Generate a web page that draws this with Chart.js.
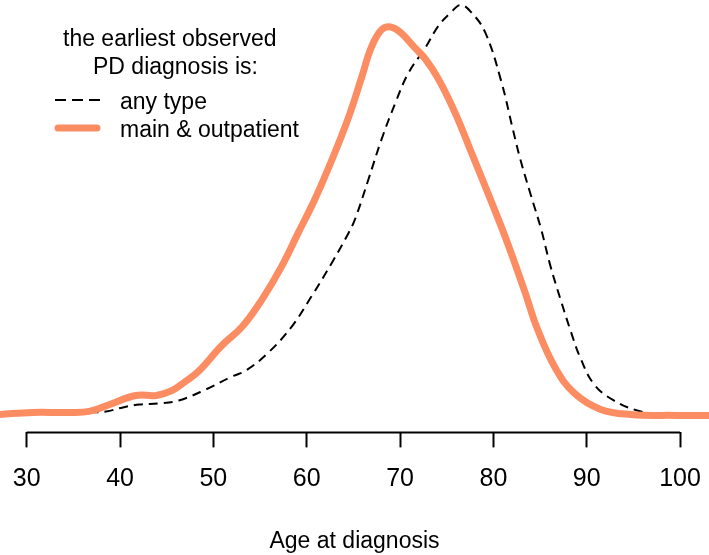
<!DOCTYPE html>
<html>
<head>
<meta charset="utf-8">
<script src="https://cdn.jsdelivr.net/npm/chart.js@4"></script>
<style>
  body { margin: 0; background: #fff; }
  #wrap { width: 709px; height: 555px; position: relative; }
</style>
</head>
<body>
<div id="wrap"><canvas id="density_chart"></canvas></div>
<script>
// density of age at earliest observed PD diagnosis
var anyAges = [27.1, 30.6, 34.3, 36.7, 38.5, 40.3, 42.1, 44.2, 46.3, 49.2, 52.0, 53.5, 55.9, 58.4,
  60.5, 62.7, 64.5, 65.2, 66.6, 68.0, 69.5, 70.9, 72.7, 74.1, 75.5, 76.5, 77.6, 79.1, 80.8, 82.1,
  82.9, 84.0, 85.1, 86.1, 87.2, 88.3, 89.3, 90.8, 92.9, 95.4, 98.0, 103.1];
var anyDensity = [0.0001, 0.0003, 0.0003, 0.0003, 0.0004, 0.0008, 0.0011, 0.0012, 0.0015, 0.0026,
  0.0039, 0.0045, 0.0063, 0.0089, 0.0119, 0.0153, 0.0183, 0.0197, 0.0236, 0.0276, 0.0313, 0.0343,
  0.0368, 0.0390, 0.0404, 0.0411, 0.0404, 0.0384, 0.0336, 0.0286, 0.0256, 0.0221, 0.0187, 0.0150,
  0.0116, 0.0084, 0.0058, 0.0031, 0.0015, 0.0005, 0.0001, 0.0000];

var mainAges = [27.1, 30.6, 34.3, 36.7, 38.9, 41.7, 43.9, 45.6, 47.0, 48.5, 50.9, 53.1, 55.2, 57.3,
  59.1, 60.9, 62.7, 64.5, 65.9, 66.9, 68.0, 69.0, 70.1, 71.6, 72.7, 74.1, 75.9, 77.7, 79.7, 81.5,
  83.4, 84.7, 86.6, 88.7, 91.5, 94.7, 99.7, 103.1];
var mainDensity = [0.0001, 0.0003, 0.0003, 0.0004, 0.0011, 0.0020, 0.0020, 0.0025, 0.0034, 0.0045,
  0.0070, 0.0089, 0.0116, 0.0149, 0.0183, 0.0217, 0.0256, 0.0299, 0.0339, 0.0368, 0.0386, 0.0389,
  0.0383, 0.0368, 0.0357, 0.0337, 0.0303, 0.0262, 0.0216, 0.0173, 0.0123, 0.0087, 0.0048, 0.0022,
  0.0006, 0.0001, 0.0000, 0.0000];

var seriesNames = ['any type', 'main & outpatient'];
var legendTitle = ['the earliest observed', 'PD diagnosis is:'];
var xTicks = [30, 40, 50, 60, 70, 80, 90, 100];
var xTitle = 'Age at diagnosis';

var FONT = "'Liberation Sans', Arial, Helvetica, sans-serif";

function toPoints(xs, ys) {
  var pts = [];
  for (var i = 0; i < xs.length; i++) pts.push({x: xs[i], y: ys[i]});
  return pts;
}

// R style axis line that only spans first to last tick
var axisLine = {
  id: 'axisLine',
  afterDraw: function(chart) {
    var sx = chart.scales.x;
    var ctx = chart.ctx;
    var y = chart.chartArea.bottom;
    ctx.save();
    ctx.strokeStyle = '#000';
    ctx.lineWidth = 2;
    ctx.beginPath();
    ctx.moveTo(sx.getPixelForValue(xTicks[0]), y);
    ctx.lineTo(sx.getPixelForValue(xTicks[xTicks.length - 1]), y);
    ctx.stroke();
    ctx.restore();
  }
};

// legend in the top left corner, like base R legend()
var cornerLegend = {
  id: 'cornerLegend',
  afterDraw: function(chart) {
    var ctx = chart.ctx;
    ctx.save();
    ctx.fillStyle = '#000';
    ctx.font = '23px ' + FONT;
    ctx.textBaseline = 'alphabetic';
    ctx.fillText(legendTitle[0], 63, 46);
    ctx.fillText(legendTitle[1], 93, 74);
    var rows = [100, 128];
    chart.data.datasets.forEach(function(ds, i) {
      var y = rows[i];
      var thick = ds.borderWidth > 3;
      ctx.strokeStyle = ds.borderColor;
      ctx.lineWidth = ds.borderWidth;
      ctx.lineCap = thick ? 'round' : 'butt';
      ctx.setLineDash(thick ? [] : [11, 6]);
      ctx.beginPath();
      ctx.moveTo(thick ? 58 : 55, y);
      ctx.lineTo(thick ? 97 : 100, y);
      ctx.stroke();
      ctx.setLineDash([]);
      ctx.fillText(ds.label, 120, y + 9);
    });
    ctx.restore();
  }
};

var ctx = document.getElementById('density_chart');
var densityChart = new Chart(ctx, {
  type: 'line',
  data: {
    datasets: [{
      label: seriesNames[0],
      data: toPoints(anyAges, anyDensity),
      borderColor: '#000000',
      borderWidth: 2,
      borderDash: [9, 6],
      pointRadius: 0,
      fill: false,
      tension: 0.4,
      order: 1
    }, {
      label: seriesNames[1],
      data: toPoints(mainAges, mainDensity),
      borderColor: '#fc8d62',
      borderWidth: 7,
      borderCapStyle: 'round',
      borderJoinStyle: 'round',
      pointRadius: 0,
      fill: false,
      tension: 0.4,
      order: 0
    }]
  },
  options: {
    responsive: true,
    maintainAspectRatio: false,
    animation: false,
    layout: { padding: 0 },
    plugins: {
      legend: { display: false },
      tooltip: { enabled: false }
    },
    scales: {
      x: {
        type: 'linear',
        min: 27.14,
        max: 103.1,
        afterBuildTicks: function(scale) {
          scale.ticks = xTicks.map(function(v) { return {value: v}; });
        },
        afterFit: function(scale) {
          // let the plot run to both edges like the R plot region
          scale.paddingLeft = 0;
          scale.paddingRight = 0;
        },
        border: { display: false },
        grid: {
          drawOnChartArea: false,
          drawTicks: true,
          tickLength: 15,
          tickWidth: 2,
          tickColor: '#000'
        },
        ticks: {
          color: '#000',
          padding: 17,
          maxRotation: 0,
          autoSkip: false,
          font: { family: FONT, size: 25 }
        },
        title: {
          display: true,
          text: xTitle,
          color: '#000',
          font: { family: FONT, size: 23 },
          padding: { top: 16, bottom: 0 }
        }
      },
      y: {
        display: false,
        min: -0.0017,
        max: 0.0416
      }
    }
  },
  plugins: [axisLine, cornerLegend]
});
</script>
</body>
</html>
